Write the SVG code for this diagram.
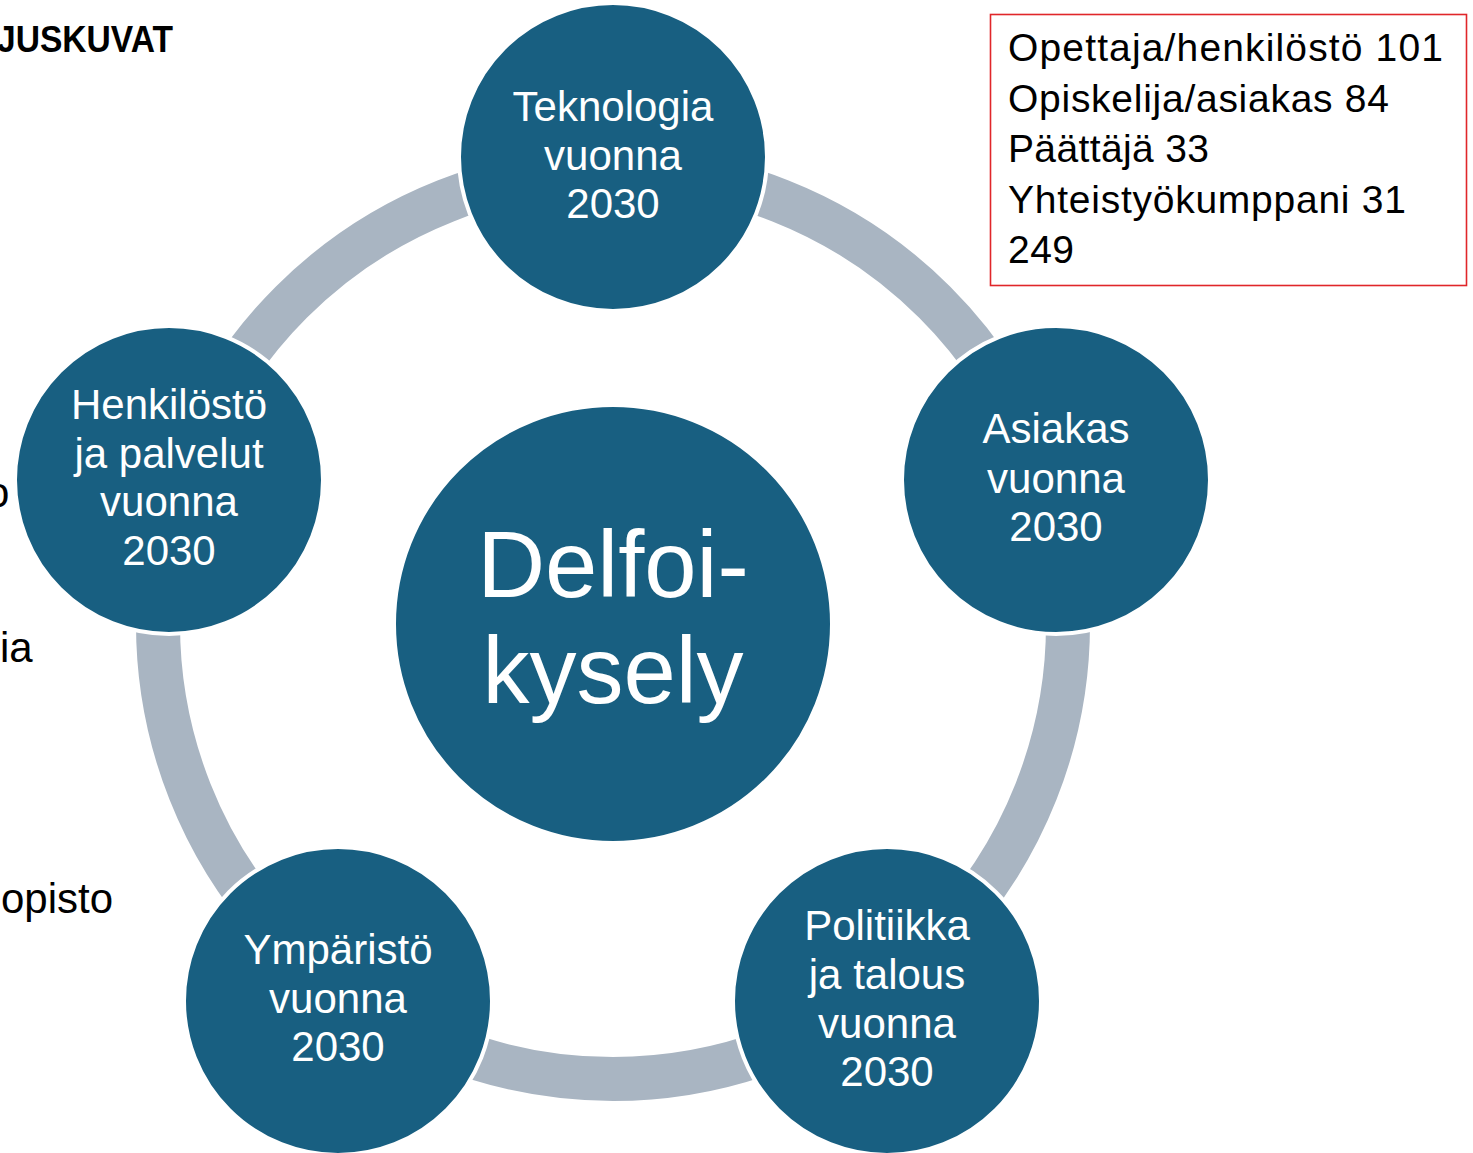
<svg xmlns="http://www.w3.org/2000/svg" width="1473" height="1153" viewBox="0 0 1473 1153">
<style>
.node{fill:#185F81;stroke:#FFFFFF;stroke-width:4}
.ring{fill:none;stroke:#A9B5C2;stroke-width:44}
.lbl{font-family:"Liberation Sans",Arial,sans-serif;font-size:42px;fill:#FFFFFF;text-anchor:middle}
.big{font-family:"Liberation Sans",Arial,sans-serif;font-size:94px;fill:#FFFFFF;text-anchor:middle}
.side{font-family:"Liberation Sans",Arial,sans-serif;font-size:42px;fill:#000000}
.box{font-family:"Liberation Sans",Arial,sans-serif;font-size:39px;fill:#000000}
</style>
<rect x="0" y="0" width="1473" height="1153" fill="#FFFFFF"/>
<text x="-3" y="52" font-family="Liberation Sans,Arial,sans-serif" font-weight="bold" font-size="37" textLength="176" lengthAdjust="spacingAndGlyphs">JUSKUVAT</text>
<text class="side" x="-14" y="507">o</text>
<text class="side" x="0" y="662">ia</text>
<text class="side" x="1" y="913">opisto</text>
<g id="connectors">
<circle class="ring" cx="613" cy="624" r="455"/>
</g>
<g id="center">
<circle class="node" cx="613" cy="624" r="219"/>
<text class="big" x="613" y="597">Delfoi-</text>
<text class="big" x="613" y="703">kysely</text>
</g>
<g id="teknologia">
<circle class="node" cx="613" cy="157" r="154"/>
<text class="lbl" x="613" y="121">Teknologia</text>
<text class="lbl" x="613" y="170">vuonna</text>
<text class="lbl" x="613" y="218">2030</text>
</g>
<g id="asiakas">
<circle class="node" cx="1056" cy="480" r="154"/>
<text class="lbl" x="1056" y="443">Asiakas</text>
<text class="lbl" x="1056" y="493">vuonna</text>
<text class="lbl" x="1056" y="541">2030</text>
</g>
<g id="politiikka">
<circle class="node" cx="887" cy="1001" r="154"/>
<text class="lbl" x="887" y="940">Politiikka</text>
<text class="lbl" x="887" y="989">ja talous</text>
<text class="lbl" x="887" y="1038">vuonna</text>
<text class="lbl" x="887" y="1086">2030</text>
</g>
<g id="ymparisto">
<circle class="node" cx="338" cy="1001" r="154"/>
<text class="lbl" x="338" y="964">Ympäristö</text>
<text class="lbl" x="338" y="1013">vuonna</text>
<text class="lbl" x="338" y="1061">2030</text>
</g>
<g id="henkilosto">
<circle class="node" cx="169" cy="480" r="154"/>
<text class="lbl" x="169" y="419">Henkilöstö</text>
<text class="lbl" x="169" y="468">ja palvelut</text>
<text class="lbl" x="169" y="516">vuonna</text>
<text class="lbl" x="169" y="565">2030</text>
</g>
<g id="legend">
<rect x="990.5" y="14.5" width="476" height="271" fill="none" stroke="#E0262A" stroke-width="1.6"/>
<text class="box" x="1008" y="61" textLength="435" lengthAdjust="spacing">Opettaja/henkilöstö 101</text>
<text class="box" x="1008" y="112" textLength="381" lengthAdjust="spacing">Opiskelija/asiakas 84</text>
<text class="box" x="1008" y="162" textLength="201" lengthAdjust="spacing">Päättäjä 33</text>
<text class="box" x="1008" y="213" textLength="398" lengthAdjust="spacing">Yhteistyökumppani 31</text>
<text class="box" x="1008" y="263" textLength="66" lengthAdjust="spacing">249</text>
</g>
</svg>
